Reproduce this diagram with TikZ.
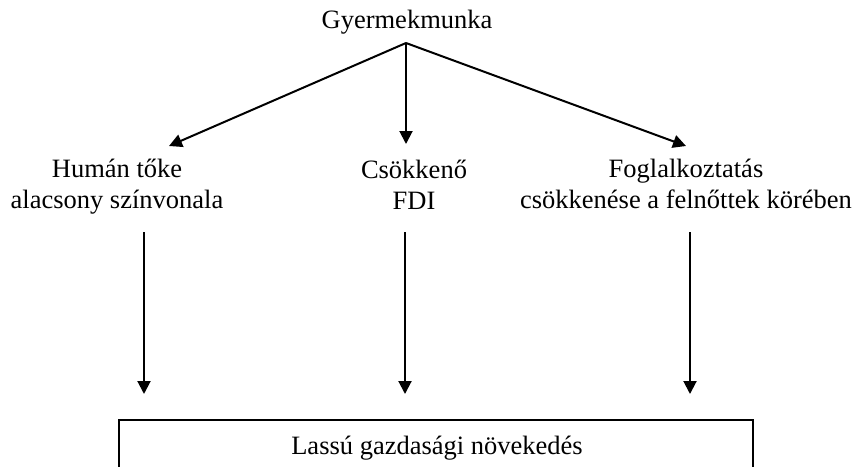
\documentclass[tikz,border=0pt]{standalone}
\usepackage{fontspec}
\setmainfont{Liberation Serif}
\usetikzlibrary{arrows.meta}
\begin{document}
\begin{tikzpicture}[x=1pt,y=-1pt,
  lbl/.style={font=\fontsize{26.5}{30.5}\selectfont, align=center, inner sep=0pt, anchor=base},
  arr/.style={line width=2pt, -{Triangle[length=13pt,width=13pt]}},
  frame/.style={line width=1.6pt}]
\useasboundingbox (0,0) rectangle (853,466);
% labels (base = baseline of the last line)
\node[lbl] (top) at (407,28) {Gyermekmunka};
\node[lbl] (hum) at (117,208) {Humán tőke\\alacsony színvonala};
\node[lbl] (fdi) at (414,209) {Csökkenő\\FDI};
\node[lbl] (fog) at (686,208) {Foglalkoztatás\\csökkenése a felnőttek körében};
\node[lbl] (slow) at (437,454) {Lassú gazdasági növekedés};
% coordinates
\coordinate (apex) at (406,43);
\coordinate (humtip) at (169,146);
\coordinate (fditip) at (406,144);
\coordinate (fogtip) at (686,146);
\coordinate (hs) at (144,232);
\coordinate (he) at (144,394);
\coordinate (fs) at (405,232);
\coordinate (fe) at (405,394);
\coordinate (gs) at (690,232);
\coordinate (ge) at (690,394);
% top arrows
\draw[arr] (apex) -- (humtip);
\draw[arr] (apex) -- (fditip);
\draw[arr] (apex) -- (fogtip);
% lower arrows
\draw[arr] (hs) -- (he);
\draw[arr] (fs) -- (fe);
\draw[arr] (gs) -- (ge);
% box (bottom edge lies below the picture)
\draw[frame] (119,480) -- (119,420) -- (753,420) -- (753,480);
\end{tikzpicture}
\end{document}
